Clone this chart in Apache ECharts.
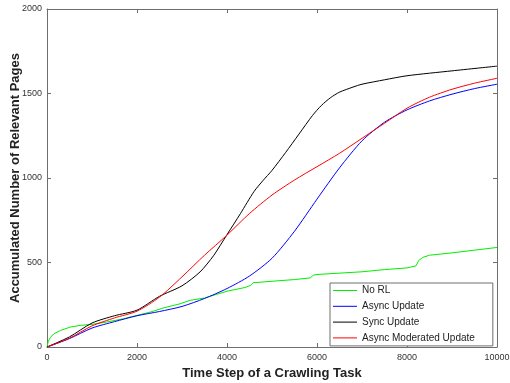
<!DOCTYPE html>
<html>
<head>
<meta charset="utf-8">
<script src="https://cdn.jsdelivr.net/npm/echarts@6/dist/echarts.min.js"></script>
<style>html,body{margin:0;padding:0;background:#fff;}#c{width:510px;height:383px;}</style>
</head>
<body>
<div id="c"></div>
<script>
var seriesNames = ['No RL', 'Async Update', 'Sync Update', 'Async Moderated Update'];
var seriesColors = ['#00ee00', '#0000ff', '#000000', '#ff0000'];
var xTicks = [0, 2000, 4000, 6000, 8000, 10000];
var yTicks = [0, 500, 1000, 1500, 2000];
var xTitle = 'Time Step of a Crawling Task';
var yTitle = 'Accumulated Number of Relevant Pages';

var noRL = [[0,0],[30,35],[80,58],[150,78],[300,98],[520,118],[740,128],[1000,134],[1330,148],[1700,167],[2000,187],[2300,207],[2600,232],[2960,256],[3180,276],[3500,290],[4000,330],[4400,352],[4520,364],[4580,380],[5000,389],[5500,399],[5850,409],[5920,425],[6000,429],[7000,445],[7500,458],[8000,468],[8200,480],[8260,512],[8350,530],[8500,543],[9000,557],[9500,573],[10000,589]];
var asyncUpd = [[0,0],[500,50],[1000,112],[1500,150],[2000,185],[2500,210],[3000,240],[3500,287],[4000,346],[4500,420],[5000,525],[5500,685],[6000,875],[6500,1060],[7000,1220],[7500,1330],[8000,1403],[8500,1456],[9000,1496],[9500,1529],[10000,1555]];
var syncUpd = [[0,0],[500,60],[1000,142],[1500,185],[2000,218],[2500,300],[3000,362],[3400,444],[3700,540],[4000,665],[4300,790],[4600,920],[4800,985],[5000,1045],[5300,1150],[5600,1260],[5900,1370],[6100,1430],[6300,1475],[6500,1508],[6800,1538],[7000,1555],[7500,1581],[8000,1605],[9000,1634],[10000,1662]];
var asyncMod = [[0,0],[500,52],[1000,125],[1500,172],[2000,212],[2500,295],[3000,415],[3500,543],[4000,662],[4500,790],[5000,899],[5500,988],[6000,1067],[6500,1146],[7000,1235],[7500,1324],[8000,1413],[8500,1478],[9000,1525],[9500,1561],[10000,1590]];
var allData = [noRL, asyncUpd, syncUpd, asyncMod];

var chart = echarts.init(document.getElementById('c'), null, {renderer: 'canvas'});
var axisColor = '#6e6e6e';
var font = '"Liberation Sans", Arial, Helvetica, sans-serif';
var plain = function (v) { return String(v); };
var series = seriesNames.map(function (n, i) {
  return {
    name: n, type: 'line', data: allData[i], showSymbol: false, symbol: 'none',
    smooth: i === 0 ? false : 0.25,
    lineStyle: {color: seriesColors[i], width: 1},
    itemStyle: {color: seriesColors[i]},
    animation: false, z: 2
  };
});
chart.setOption({
  animation: false,
  backgroundColor: '#fff',
  grid: {left: 47, right: 13, top: 9, bottom: 36, show: false, containLabel: false, outerBoundsMode: 'none'},
  legend: {
    orient: 'vertical', left: 330, top: 283,
    icon: 'rect', itemWidth: 24, itemHeight: 1, itemGap: 3.8,
    padding: [1.5, 18, 2, 3],
    borderColor: '#6e6e6e', borderWidth: 1, backgroundColor: '#fff',
    textStyle: {fontFamily: font, fontSize: 10, color: '#222', lineHeight: 12},
    data: seriesNames
  },
  graphic: [{
    type: 'text', x: 15.5, y: 178, rotation: Math.PI / 2,
    style: {text: yTitle, fontFamily: font, fontSize: 13, fontWeight: 'bold', fill: '#222', align: 'center', verticalAlign: 'middle'}
  }],
  xAxis: [{
    type: 'value', min: 0, max: 10000, interval: 2000,
    name: xTitle, nameLocation: 'middle', nameGap: 18,
    nameTextStyle: {fontFamily: font, fontSize: 13, fontWeight: 'bold', color: '#222'},
    axisLine: {show: true, onZero: false, lineStyle: {color: axisColor, width: 1}},
    axisTick: {show: true, inside: true, length: 4, lineStyle: {color: axisColor}},
    axisLabel: {fontFamily: font, fontSize: 9, color: '#333', margin: 6, formatter: plain},
    splitLine: {show: false}
  }, {
    type: 'value', min: 0, max: 10000, interval: 2000, position: 'top',
    axisLine: {show: true, onZero: false, lineStyle: {color: axisColor, width: 1}},
    axisTick: {show: true, inside: true, length: 4, lineStyle: {color: axisColor}},
    axisLabel: {show: false}, splitLine: {show: false}
  }],
  yAxis: [{
    type: 'value', min: 0, max: 2000, interval: 500,
    axisLine: {show: true, onZero: false, lineStyle: {color: axisColor, width: 1}},
    axisTick: {show: true, inside: true, length: 4, lineStyle: {color: axisColor}},
    axisLabel: {fontFamily: font, fontSize: 9, color: '#333', margin: 5, formatter: plain},
    splitLine: {show: false}
  }, {
    type: 'value', min: 0, max: 2000, interval: 500, position: 'right',
    axisLine: {show: true, onZero: false, lineStyle: {color: axisColor, width: 1}},
    axisTick: {show: true, inside: true, length: 4, lineStyle: {color: axisColor}},
    axisLabel: {show: false}, splitLine: {show: false}
  }],
  series: series
});
</script>
</body>
</html>
